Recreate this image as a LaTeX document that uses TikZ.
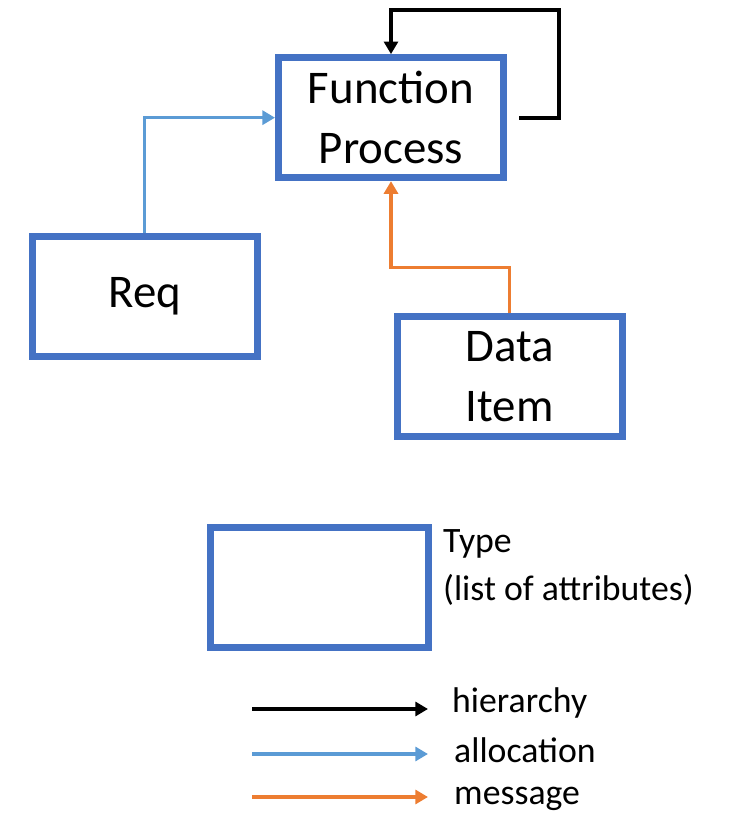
\documentclass[tikz,border=0pt]{standalone}
\usepackage{fontspec}
\setmainfont{Carlito}
\definecolor{boxBlue}{HTML}{4472C4}
\definecolor{allocBlue}{HTML}{5B9BD5}
\definecolor{msgOrange}{HTML}{ED7D31}
\usetikzlibrary{arrows.meta, positioning, calc}

\begin{document}
\begin{tikzpicture}[
  typebox/.style={draw=boxBlue, line width=0.21cm, fill=white,
    minimum width=6.75cm, minimum height=3.6cm, align=center,
    font=\fontsize{40}{51}\selectfont},
  link/.style={line width=0.1cm,
    -{Triangle[length=0.38cm, width=0.42cm]}},
  hier/.style={link, draw=black, line width=0.12cm},
  alloc/.style={link, draw=allocBlue, -{Triangle[length=0.38cm, width=0.42cm, fill=allocBlue]}},
  msg/.style={link, draw=msgOrange, -{Triangle[length=0.38cm, width=0.42cm, fill=msgOrange]}},
  legtext/.style={font=\fontsize{30.5}{40.5}\selectfont, inner sep=0pt},
  scale=1.0
]
  \useasboundingbox (0,0) rectangle (22.32,-24.39);

  % Types
  \node[typebox] (fp)  at (11.73, -3.53)  {Function\\Process};
  \node[typebox] (req) at (4.34, -8.88)   {Req};
  \node[typebox] (di)  at (15.29, -11.30) {Data\\Item};

  % Relations
  \coordinate (loopstart) at ($(fp.east)+(0.36,0)$);
  \coordinate (loopcorner) at (16.77, -0.30);
  \draw[hier] (loopstart) -| (loopcorner) -| (fp.north);
  \draw[alloc] (req.north) |- (fp.west);
  \coordinate (msgbend) at ($(di.north)+(0,1.38)$);
  \draw[msg] (di.north) -- (msgbend) -| (fp.south);

  % Legend
  \node[typebox, minimum width=6.55cm] (leg) at (9.59, -17.61) {};
  \node[legtext, anchor=base west, align=left] (legtype) at (13.29, -18.0)
    {Type\\(list of attributes)};

  \coordinate (h0) at (7.56, -21.27);
  \coordinate (h1) at (12.84, -21.27);
  \coordinate (a0) at (7.56, -22.62);
  \coordinate (a1) at (12.84, -22.62);
  \coordinate (m0) at (7.56, -23.91);
  \coordinate (m1) at (12.84, -23.91);
  \draw[hier, line width=0.1cm] (h0) -- (h1);
  \draw[alloc] (a0) -- (a1);
  \draw[msg] (m0) -- (m1);
  \node[legtext, anchor=base west] (hlab) at (13.56, -21.36) {hierarchy};
  \node[legtext, anchor=base west] (alab) at (13.62, -22.86) {allocation};
  \node[legtext, anchor=base west] (mlab) at (13.62, -24.12) {message};
\end{tikzpicture}
\end{document}
